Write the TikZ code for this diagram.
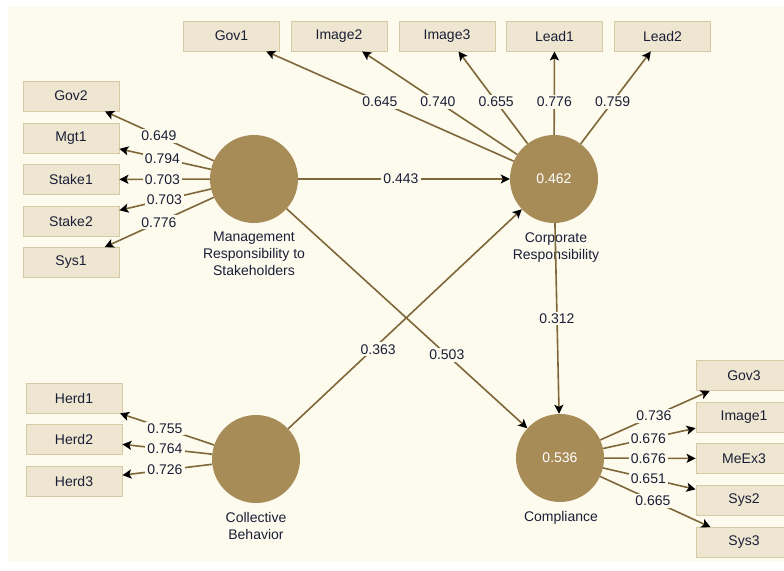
\documentclass[tikz,border=0pt]{standalone}
\usepackage{fontspec}
\setmainfont{Liberation Sans}
\usetikzlibrary{arrows.meta,calc}
\definecolor{bgcol}{HTML}{FDFBEE}
\definecolor{boxfill}{HTML}{EEE6D1}
\definecolor{boxdraw}{HTML}{D6C9A6}
\definecolor{lvcol}{HTML}{A88C58}
\definecolor{edgecol}{HTML}{7E6738}
\definecolor{txtcol}{HTML}{1A1E36}
\begin{document}
\begin{tikzpicture}[x=1pt,y=-1pt,
 font=\fontsize{14}{17}\selectfont, text=txtcol,
 ind/.style={draw=boxdraw, fill=boxfill, minimum width=96pt, minimum height=30pt, inner sep=0pt, line width=0.8pt},
 lat/.style={circle, fill=lvcol, minimum size=88pt, inner sep=0pt, text=white},
 lbl/.style={fill=bgcol, inner sep=2pt},
 lvcap/.style={align=center},
 conn/.style={draw=edgecol, line width=1.6pt, -{Stealth[length=9pt,width=9pt,inset=2pt,color=black]}}
]
\useasboundingbox (0,0) rectangle (784,570);
\clip (0,0) rectangle (784,570);
\fill[white] (0,0) rectangle (784,570);
\fill[bgcol] (8,7) rectangle (784,561);

% latent variables
\node[lat] (MRS) at (254,179) {};
\node[lat] (CR) at (554,179) {0.462};
\node[lat] (CB) at (256,459) {};
\node[lat] (CO) at (560,458) {0.536};

\node[lvcap] (cMRS) at (254,254) {Management\\Responsibility to\\Stakeholders};
\node[lvcap] (cCR) at (556,248) {Corporate\\Responsibility};
\node[lvcap] (cCB) at (256,526) {Collective\\Behavior};
\node[lvcap] (cCO) at (561,518) {Compliance};

% indicators top
\node[ind] (Gov1) at (231.5,36) {Gov1};
\node[ind] (Image2) at (339,36) {Image2};
\node[ind] (Image3) at (447,36) {Image3};
\node[ind] (Lead1) at (554.5,36) {Lead1};
\node[ind] (Lead2) at (662.5,36) {Lead2};
% left
\node[ind] (Gov2) at (71,96) {Gov2};
\node[ind] (Mgt1) at (71,138) {Mgt1};
\node[ind] (Stake1) at (71,179.5) {Stake1};
\node[ind] (Stake2) at (71,221.5) {Stake2};
\node[ind] (Sys1) at (71,262.5) {Sys1};
% herd
\node[ind] (Herd1) at (74,398) {Herd1};
\node[ind] (Herd2) at (74,439) {Herd2};
\node[ind] (Herd3) at (74,481) {Herd3};
% right
\node[ind] (Gov3) at (744,375.5) {Gov3};
\node[ind] (Image1) at (744,417.5) {Image1};
\node[ind] (MeEx3) at (744,458.5) {MeEx3};
\node[ind] (Sys2) at (744,500.5) {Sys2};
\node[ind] (Sys3) at (744,542.5) {Sys3};

% connectors
\foreach \b in {Gov1,Image2,Image3,Lead1,Lead2} \draw[conn] (CR) -- (\b);
\foreach \b in {Gov2,Mgt1,Stake1,Stake2,Sys1} \draw[conn] (MRS) -- (\b);
\foreach \b in {Herd1,Herd2,Herd3} \draw[conn] (CB) -- (\b);
\foreach \b in {Gov3,Image1,MeEx3,Sys2,Sys3} \draw[conn] (CO) -- (\b);
\draw[conn] (MRS) -- (CR);
\draw[conn] (MRS) -- (CO);
\draw[conn] (CB) -- (CR);
\draw[conn] (CR) -- (CO);

% labels
\node[lbl] (lGov1) at ($(CR.center)!0.54!(Gov1.center)$) {0.645};
\node[lbl] (lImage2) at ($(CR.center)!0.54!(Image2.center)$) {0.740};
\node[lbl] (lImage3) at ($(CR.center)!0.54!(Image3.center)$) {0.655};
\node[lbl] (lLead1) at ($(CR.center)!0.54!(Lead1.center)$) {0.776};
\node[lbl] (lLead2) at ($(CR.center)!0.54!(Lead2.center)$) {0.759};

\node[lbl] (lGov2) at ($(MRS.center)!0.52!(Gov2.center)$) {0.649};
\node[lbl] (lMgt1) at ($(MRS.center)!0.5!(Mgt1.center)$) {0.794};
\node[lbl] (lStake1) at ($(MRS.center)!0.5!(Stake1.center)$) {0.703};
\node[lbl] (lStake2) at ($(MRS.center)!0.49!(Stake2.center)$) {0.703};
\node[lbl] (lSys1) at ($(MRS.center)!0.52!(Sys1.center)$) {0.776};

\node[lbl] (lHerd1) at ($(CB.center)!0.5!(Herd1.center)$) {0.755};
\node[lbl] (lHerd2) at ($(CB.center)!0.5!(Herd2.center)$) {0.764};
\node[lbl] (lHerd3) at ($(CB.center)!0.5!(Herd3.center)$) {0.726};

\node[lbl] (lGov3) at ($(CO.center)!0.51!(Gov3.center)$) {0.736};
\node[lbl] (lImage1) at ($(CO.center)!0.48!(Image1.center)$) {0.676};
\node[lbl] (lMeEx3) at ($(CO.center)!0.48!(MeEx3.center)$) {0.676};
\node[lbl] (lSys2) at ($(CO.center)!0.48!(Sys2.center)$) {0.651};
\node[lbl] (lSys3) at ($(CO.center)!0.505!(Sys3.center)$) {0.665};

\node[lbl] (lMC) at ($(MRS.center)!0.49!(CR.center)$) {0.443};
\node[lbl] (lMO) at ($(MRS.center)!0.63!(CO.center)$) {0.503};
\node[lbl,yshift=-5pt] (lBC) at ($(CB.center)!0.41!(CR.center)$) {0.363};
\node[lbl] (lCO) at ($(CR.center)!0.5!(CO.center)$) {0.312};
\end{tikzpicture}
\end{document}
